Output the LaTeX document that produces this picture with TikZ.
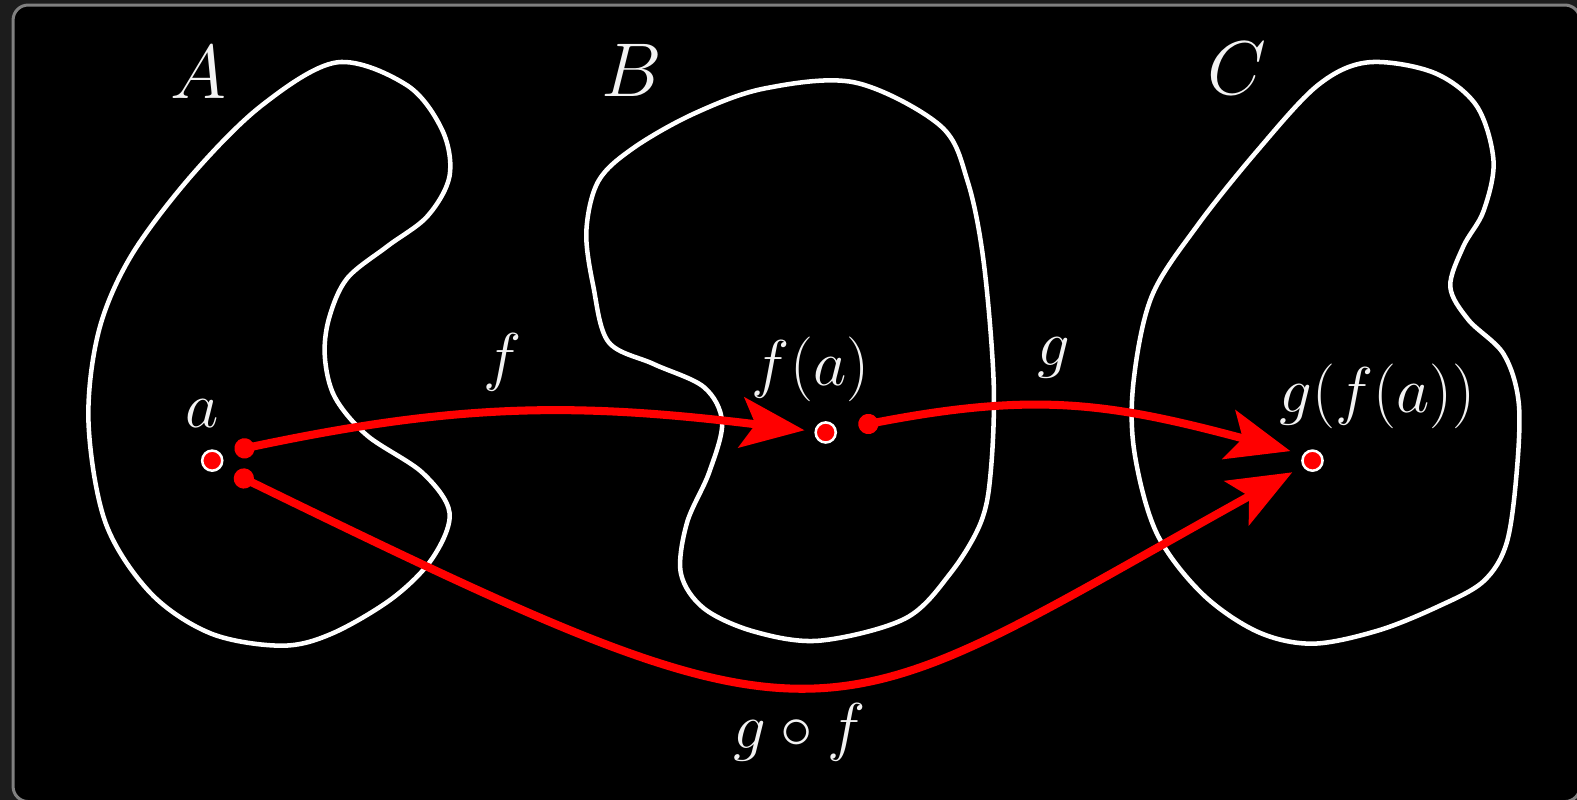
\documentclass[tikz,border=0pt]{standalone}
\usepackage{tikz}
\usetikzlibrary{arrows.meta}
\usepackage{xcolor}
\definecolor{bgout}{HTML}{1C1C1C}
\definecolor{framegrey}{HTML}{808080}
\definecolor{inkwhite}{HTML}{F2F2F2}

\begin{document}
\begin{tikzpicture}[x=0.1mm,y=0.1mm,
  blob/.style={draw=white,line width=0.45mm},
  pt/.style={circle,fill=red,draw=white,line width=0.25mm,minimum size=2mm,inner sep=0pt},
  mapline/.style={red,line width=0.8mm,{Circle[length=2mm]}-{Stealth[length=6.3mm,width=5mm,inset=1.4mm]}},
  setlbl/.style={text=inkwhite,font=\huge,scale=1.04},
  lbl/.style={text=inkwhite,font=\LARGE,scale=1.06}]
\useasboundingbox (0,0) rectangle (1568,795);
\fill[bgout] (0,0) rectangle (1568,795);
\draw[framegrey,line width=0.3mm,fill=black,rounded corners=1.5mm] (13,-2) rectangle (1571,790);

% the three sets
\draw[blob] plot[smooth cycle,tension=0.55] coordinates {(335,733) (405,710) (440,665) (447,620) (425,580) (385,550) (345,518) (327,478) (323,440) (333,400) (365,362) (420,325) (447,285) (430,240) (390,200) (330,165) (280,153) (210,165) (150,205) (105,275) (88,375) (98,465) (130,540) (190,620) (260,690)};
\draw[blob] plot[smooth cycle,tension=0.55] coordinates {(760,707) (850,713) (935,670) (962,615) (978,535) (988,415) (985,325) (975,275) (945,225) (900,180) (815,158) (750,167) (700,190) (677,225) (683,275) (705,325) (718,375) (700,410) (650,433) (605,455) (590,510) (583,565) (595,615) (630,648) (690,682)};
\draw[blob] plot[smooth cycle,tension=0.55] coordinates {(1360,733) (1425,723) (1468,690) (1485,635) (1475,585) (1455,550) (1442,510) (1460,477) (1495,443) (1510,395) (1508,325) (1498,255) (1475,217) (1430,192) (1370,168) (1305,155) (1250,167) (1195,205) (1150,265) (1128,345) (1127,415) (1145,500) (1190,570) (1250,645) (1310,710)};

\node[setlbl] (setA) at (197,723) {$A$};
\node[setlbl] (setB) at (628,725) {$B$};
\node[setlbl] (setC) at (1230,727) {$C$};

% elements
\node[pt] (a) at (211,337) {};
\node[pt] (fa) at (821,365) {};
\node[pt] (gfa) at (1305,337) {};
\node[lbl] (alab) at (201,384) {$a$};
\node[lbl] (falab) at (806,428) {$f(a)$};
\node[lbl] (gfalab) at (1370,401) {$g(f(a))$};

% maps
\draw[mapline,shorten <=1.4mm,shorten >=1mm] (a.40) .. controls +(12:240) and +(173:240) .. (fa.175);
\draw[mapline,shorten <=2.2mm,shorten >=1.3mm] (fa.12) .. controls +(11:200) and +(165:200) .. (gfa.147);
\draw[mapline,shorten <=1.5mm,shorten >=1.2mm] (a.-37) .. controls +(-26:690) and +(209:560) .. (gfa.211);
\node[lbl] (flab) at (500,435) {$f$};
\node[lbl] (glab) at (1048,439) {$g$};
\node[lbl] (gflab) at (795,67) {$g\circ f$};
\end{tikzpicture}
\end{document}
